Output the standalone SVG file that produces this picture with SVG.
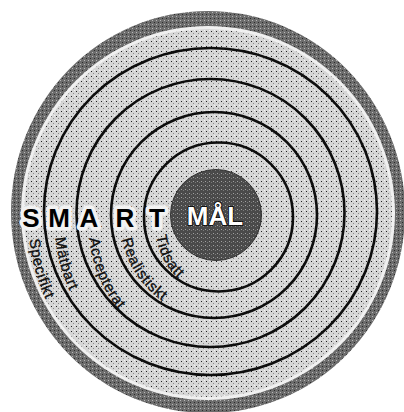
<svg xmlns="http://www.w3.org/2000/svg" xmlns:xlink="http://www.w3.org/1999/xlink" width="404" height="412" viewBox="0 0 404 412">
  <style>
    .ring { fill: none; stroke: #0d0d0d; stroke-width: 2.6; }
    .smart { font-family: "Liberation Sans", Arial, sans-serif; font-weight: bold; font-size: 26px; fill: #000; stroke: #f2f2f2; stroke-width: 7; stroke-linejoin: round; paint-order: stroke; text-anchor: middle; }
    .mal { font-family: "Liberation Sans", Arial, sans-serif; font-weight: bold; font-size: 26px; fill: #fff; stroke: #000; stroke-width: 1.6; paint-order: stroke; text-anchor: middle; }
    .lbl { font-family: "Liberation Sans", Arial, sans-serif; font-size: 15px; letter-spacing: 0.7px; fill: #111; stroke: #111; stroke-width: 0.35; }
  </style>
  <defs>
    <pattern id="stip" width="5" height="5" patternUnits="userSpaceOnUse">
      <rect width="5" height="5" fill="#d6d6d6"/>
      <rect x="1" y="1" width="1" height="1" fill="#222"/>
      <rect x="3" y="3" width="1" height="1" fill="#8a8a8a"/>
      <rect x="4" y="0" width="1" height="1" fill="#f4f4f4"/>
    </pattern>
    <pattern id="dark" width="4" height="4" patternUnits="userSpaceOnUse">
      <rect width="4" height="4" fill="#4a4a4a"/>
      <rect x="1" y="1" width="1" height="1" fill="#a0a0a0"/>
      <rect x="3" y="2" width="1" height="1" fill="#7a7a7a"/>
    </pattern>
    <pattern id="rimp" width="4" height="4" patternUnits="userSpaceOnUse">
      <rect width="4" height="4" fill="#6c6c6c"/>
      <rect x="0" y="0" width="1" height="1" fill="#b8b8b8"/>
      <rect x="2" y="2" width="1" height="1" fill="#2a2a2a"/>
    </pattern>
    <path id="pS" d="M29.7,239.3 A186,186 0 0 0 121.9,383.2"/>
    <path id="pM" d="M55.4,237.9 A162,162 0 0 0 135.7,362.7"/>
    <path id="pA" d="M89.4,238.4 A131,131 0 0 0 175.1,349.6"/>
    <path id="pR" d="M122,239.2 A100,100 0 0 0 202.6,317.6"/>
    <path id="pT" d="M156.3,235.9 A71,71 0 0 0 226.7,297.6"/>
  </defs>

  <g id="target">
    <ellipse id="rim" cx="208" cy="212" rx="197" ry="201" fill="url(#rimp)"/>
    <ellipse id="gap" cx="208" cy="213" rx="187" ry="187" fill="#f0f0f0"/>
    <ellipse id="field" cx="208" cy="213" rx="184" ry="184" fill="url(#stip)"/>
    <ellipse id="ring1" class="ring" cx="210.5" cy="211.5" rx="166.5" ry="163.5"/>
    <circle id="ring2" class="ring" cx="210.5" cy="213" r="134"/>
    <circle id="ring3" class="ring" cx="214" cy="215" r="103"/>
    <circle id="ring4" class="ring" cx="218.5" cy="217" r="74.5"/>
    <circle id="bull" cx="216" cy="215" r="45.5" fill="url(#dark)" stroke="#333" stroke-width="1"/>
  </g>

  <g id="smart">
    <text class="smart" x="31" y="227">S</text>
    <text class="smart" x="59" y="227">M</text>
    <text class="smart" x="89" y="227">A</text>
    <text class="smart" x="125" y="227">R</text>
    <text class="smart" x="157" y="227">T</text>
  </g>

  <g id="mal">
    <text class="mal" x="215" y="225">MÅL</text>
  </g>

  <g id="labels">
    <text class="lbl"><textPath href="#pS" xlink:href="#pS">Specifikt</textPath></text>
    <text class="lbl"><textPath href="#pM" xlink:href="#pM">Mätbart</textPath></text>
    <text class="lbl"><textPath href="#pA" xlink:href="#pA">Accepterat</textPath></text>
    <text class="lbl"><textPath href="#pR" xlink:href="#pR">Realistiskt</textPath></text>
    <text class="lbl"><textPath href="#pT" xlink:href="#pT">Tidsatt</textPath></text>
  </g>
</svg>
